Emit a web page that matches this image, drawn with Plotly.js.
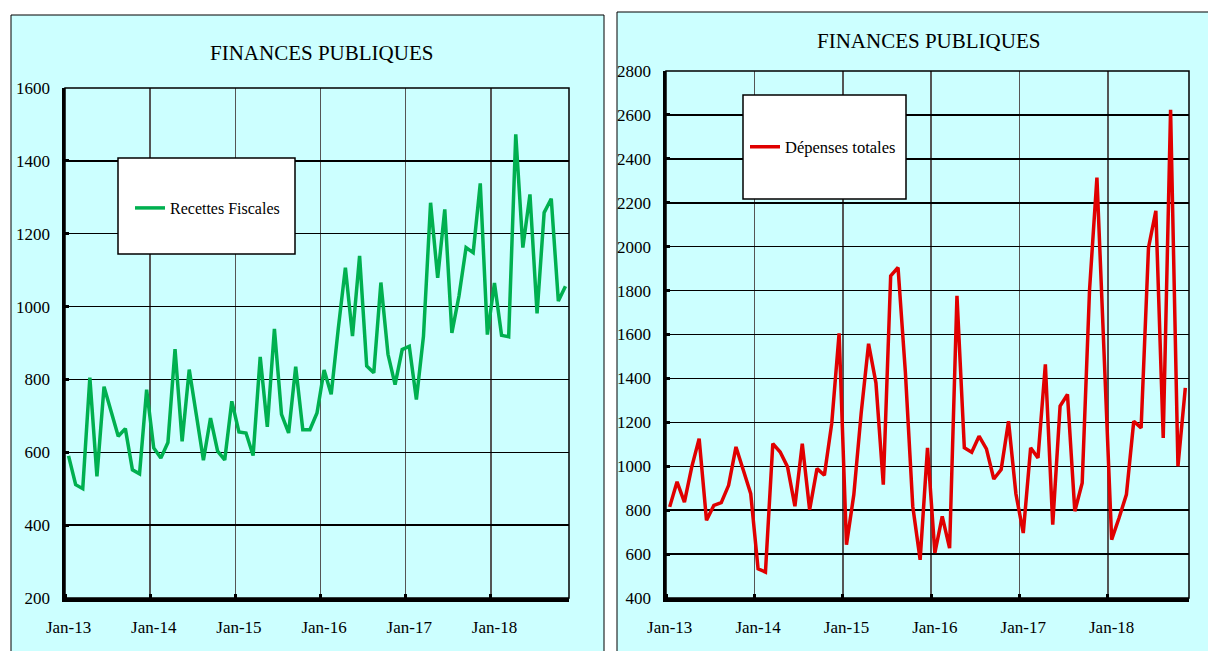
<!DOCTYPE html>
<html>
<head>
<meta charset="utf-8">
<script src="https://cdn.plot.ly/plotly-3.0.1.min.js"></script>
<style>
  html, body { margin: 0; padding: 0; background: #ffffff; }
  #chart { width: 1208px; height: 651px; }
</style>
</head>
<body>
<div id="chart"></div>
<script>
// ---- categories ----
const monthNames = ['Jan','Feb','Mar','Apr','May','Jun','Jul','Aug','Sep','Oct','Nov','Dec'];
const years = ['13','14','15','16','17','18'];
const months = [];
years.forEach(y => monthNames.forEach(m => months.push(m + '-' + y)));
months.length = 71; // Jan-13 .. Nov-18

// ---- tick labels ----
const tickLabels = ['Jan-13','Jan-14','Jan-15','Jan-16','Jan-17','Jan-18'];

// ---- series values ----
const recettesFiscales = [
  590, 511, 500, 805, 534, 780, 712, 644, 665, 552, 541, 772,
  612, 584, 627, 883, 630, 827, 703, 578, 694, 603, 579, 740,
  656, 653, 591, 862, 670, 939, 704, 653, 835, 662, 662, 708,
  826, 759, 940, 1107, 919, 1139, 837, 818, 1066, 869, 786, 882,
  891, 745, 919, 1285, 1079, 1267, 928, 1029, 1162, 1148, 1338, 923,
  1065, 921, 917, 1473, 1162, 1308, 981, 1258, 1296, 1015, 1056
];
const depensesTotales = [
  815, 929, 837, 997, 1126, 754, 822, 834, 913, 1088, 982, 875,
  533, 518, 1103, 1065, 997, 818, 1103, 802, 989, 959, 1195, 1605,
  643, 871, 1243, 1558, 1380, 916, 1867, 1905, 1426, 817, 574, 1084,
  605, 772, 627, 1776, 1084, 1064, 1137, 1079, 942, 985, 1205, 875,
  696, 1084, 1038, 1464, 734, 1274, 1327, 795, 924, 1805, 2315, 1530,
  666, 764, 871, 1205, 1175, 1995, 2163, 1129, 2623, 1000, 1357
];

const titleText = 'FINANCES PUBLIQUES';
const seriesNames = ['Recettes Fiscales', 'Dépenses totales'];

// ---- build ----
const W = 1208, H = 651;
const px = v => v / W;
const py = v => 1 - v / H;
const idx = months.map((_, i) => i);
const tickIdx = tickLabels.map(l => months.indexOf(l));
const FONT = 'Liberation Serif, Times New Roman, serif';

const traces = [
  { x: idx, y: recettesFiscales, text: months, type: 'scatter', mode: 'lines',
    name: seriesNames[0], line: { color: '#00B050', width: 3.5 },
    xaxis: 'x', yaxis: 'y', legend: 'legend', hovertemplate: '%{text}: %{y}<extra></extra>' },
  { x: idx, y: depensesTotales, text: months, type: 'scatter', mode: 'lines',
    name: seriesNames[1], line: { color: '#E00000', width: 3.5 },
    xaxis: 'x2', yaxis: 'y2', legend: 'legend2', hovertemplate: '%{text}: %{y}<extra></extra>' }
];

function xAxis(domain, anchor) {
  return {
    domain: domain, anchor: anchor, range: [-0.5, months.length - 0.5],
    tickmode: 'array', tickvals: tickIdx, ticktext: tickLabels,
    showgrid: false, zeroline: false, ticks: '',
    showline: true, linecolor: '#000', linewidth: 4,
    tickfont: { family: FONT, size: 17, color: '#000' },
    ticklabelstandoff: 11,
    minor: { tickmode: 'linear', tick0: -0.5, dtick: 12, showgrid: true,
             gridcolor: '#555', gridwidth: 1.5, ticks: 'inside', ticklen: 4,
             tickwidth: 3, tickcolor: '#000' }
  };
}
function yAxis(domain, anchor, range) {
  return {
    domain: domain, anchor: anchor, range: range, dtick: 200, tick0: 0,
    showgrid: true, gridcolor: '#000', gridwidth: 1.5, zeroline: false,
    ticks: 'inside', ticklen: 4, tickwidth: 3, tickcolor: '#000',
    showline: true, linecolor: '#000', linewidth: 3.5,
    tickfont: { family: FONT, size: 17, color: '#000' },
    ticklabelstandoff: 8
  };
}

const layout = {
  width: W, height: H,
  margin: { l: 0, r: 0, t: 0, b: 0 },
  paper_bgcolor: '#ffffff', plot_bgcolor: '#ffffff',
  showlegend: true,
  xaxis: xAxis([px(65), px(569)], 'y'),
  yaxis: yAxis([py(598), py(88)], 'x', [200, 1600]),
  xaxis2: xAxis([px(666), px(1189)], 'y2'),
  yaxis2: yAxis([py(598), py(71)], 'x2', [400, 2800]),
  legend: { x: px(130), y: py(208), xanchor: 'left', yanchor: 'middle',
            bgcolor: 'rgba(0,0,0,0)', borderwidth: 0,
            font: { family: FONT, size: 16, color: '#000' } },
  legend2: { x: px(745), y: py(147), xanchor: 'left', yanchor: 'middle',
             bgcolor: 'rgba(0,0,0,0)', borderwidth: 0,
             font: { family: FONT, size: 16.5, color: '#000' } },
  shapes: [
    // panel backgrounds
    { type: 'rect', xref: 'paper', yref: 'paper', layer: 'below',
      x0: px(11), x1: px(604), y0: -0.05, y1: py(15),
      fillcolor: '#CCFFFF', line: { color: '#000', width: 1 } },
    { type: 'rect', xref: 'paper', yref: 'paper', layer: 'below',
      x0: px(617), x1: 1.05, y0: -0.05, y1: py(12),
      fillcolor: '#CCFFFF', line: { color: '#000', width: 1 } },
    // thin plot borders
    { type: 'rect', xref: 'x domain', yref: 'y domain', layer: 'above',
      x0: 0, x1: 1, y0: 0, y1: 1, line: { color: '#000', width: 1.5 } },
    { type: 'rect', xref: 'x2 domain', yref: 'y2 domain', layer: 'above',
      x0: 0, x1: 1, y0: 0, y1: 1, line: { color: '#000', width: 1.5 } },
    // legend boxes
    { type: 'rect', xref: 'paper', yref: 'paper', layer: 'above',
      x0: px(118), x1: px(295), y0: py(254), y1: py(158),
      fillcolor: '#fff', line: { color: '#000', width: 1.5 } },
    { type: 'rect', xref: 'paper', yref: 'paper', layer: 'above',
      x0: px(743), x1: px(906), y0: py(199), y1: py(95),
      fillcolor: '#fff', line: { color: '#000', width: 1.5 } }
  ],
  annotations: [
    { text: titleText, xref: 'paper', yref: 'paper', x: px(321), y: py(53),
      xanchor: 'center', yanchor: 'middle', showarrow: false,
      font: { family: FONT, size: 21, color: '#000' } },
    { text: titleText, xref: 'paper', yref: 'paper', x: px(928), y: py(41),
      xanchor: 'center', yanchor: 'middle', showarrow: false,
      font: { family: FONT, size: 21, color: '#000' } }
  ]
};

Plotly.newPlot('chart', traces, layout, { displayModeBar: false, staticPlot: true });
</script>
</body>
</html>
